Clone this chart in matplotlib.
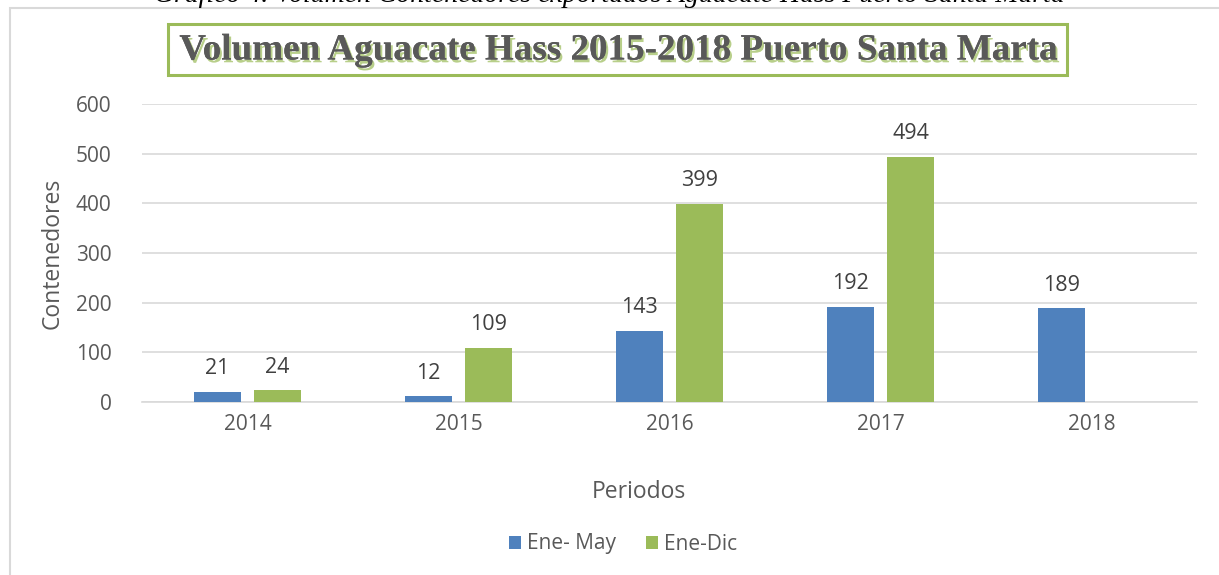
import numpy as np
import matplotlib.pyplot as plt
import matplotlib.patheffects as pe
from matplotlib.patches import Rectangle

years = ["2014", "2015", "2016", "2017", "2018"]
ene_may = [21, 12, 143, 192, 189]
ene_dic = [24, 109, 399, 494, np.nan]

BLUE = "#4F81BD"
GREEN = "#9BBB59"
TXT = "#595959"
GRID = "#D9D9D9"

plt.rcParams["font.family"] = ["Open Sans", "DejaVu Sans"]

W, H = 1219, 575
fig = plt.figure(figsize=(W / 100, H / 100), dpi=100)

# chart frame
fig.patches.append(Rectangle((10 / W, -0.01), 1.2, (H - 8) / H + 0.01,
                             transform=fig.transFigure, fill=False,
                             edgecolor="#D9D9D9", linewidth=1.5))

# caption of the document, cut off by the top edge
fig.text(0.5, 1 + 4 / H, "Gráfico 4. Volumen Contenedores exportados Aguacate Hass Puerto Santa Marta",
         ha="center", va="center", fontsize=20, style="italic",
         family="Liberation Serif", color="black")

ax = fig.add_axes([142 / W, 1 - 402 / H, (1197 - 142) / W, (402 - 104) / H])
x = np.arange(len(years))
w = 0.227
off = 0.142
b1 = ax.bar(x - off, ene_may, w, color=BLUE, label="Ene- May", zorder=3)
b2 = ax.bar(x + off, ene_dic, w, color=GREEN, label="Ene-Dic", zorder=3)

for bars, vals in ((b1, ene_may), (b2, ene_dic)):
    for r, v in zip(bars, vals):
        if np.isnan(v):
            continue
        ax.annotate(f"{int(v)}", (r.get_x() + r.get_width() / 2, v),
                    xytext=(0, 9), textcoords="offset points",
                    ha="center", va="bottom", fontsize=15.5, color="#404040")

ax.set_xlim(-0.5, len(years) - 0.5)
ax.set_ylim(0, 600)
ax.set_yticks(range(0, 601, 100))
ax.set_xticks(x)
ax.set_xticklabels(years)
ax.yaxis.grid(True, color=GRID, linewidth=1.2, zorder=0)
ax.set_axisbelow(True)
for s in ("top", "right", "left"):
    ax.spines[s].set_visible(False)
ax.spines["bottom"].set_color(GRID)
ax.spines["bottom"].set_linewidth(1.2)
ax.tick_params(axis="both", length=0, labelsize=15, colors=TXT, pad=22)
ax.tick_params(axis="x", pad=9)

ax.set_ylabel("Contenedores", fontsize=16.5, color=TXT, labelpad=8)
fig.text(639 / W, 1 - 492 / H, "Periodos", ha="center", va="center",
         fontsize=16.5, color=TXT)

leg = fig.legend(handles=[b1, b2], loc="center", bbox_to_anchor=(623 / W, 1 - 544 / H),
                 ncol=2, frameon=False, fontsize=15, handlelength=0.6,
                 handleheight=0.6, handletextpad=0.3, columnspacing=1.4)
for t in leg.get_texts():
    t.set_color(TXT)

# title box
fig.patches.append(Rectangle((168 / W, 1 - 75 / H), (1067 - 168) / W, (75 - 24) / H,
                             transform=fig.transFigure, fill=True, facecolor="white",
                             edgecolor=GREEN, linewidth=2.2))
fig.text(619 / W, 1 - 50 / H, "Volumen Aguacate Hass 2015-2018 Puerto Santa Marta",
         ha="center", va="center", fontsize=26.7, fontweight="bold",
         family="Liberation Serif", color=TXT,
         path_effects=[pe.withSimplePatchShadow(offset=(1.5, -2), shadow_rgbFace=GREEN, alpha=0.7),
                       pe.Normal()])

fig.savefig("out.png", dpi=100)
